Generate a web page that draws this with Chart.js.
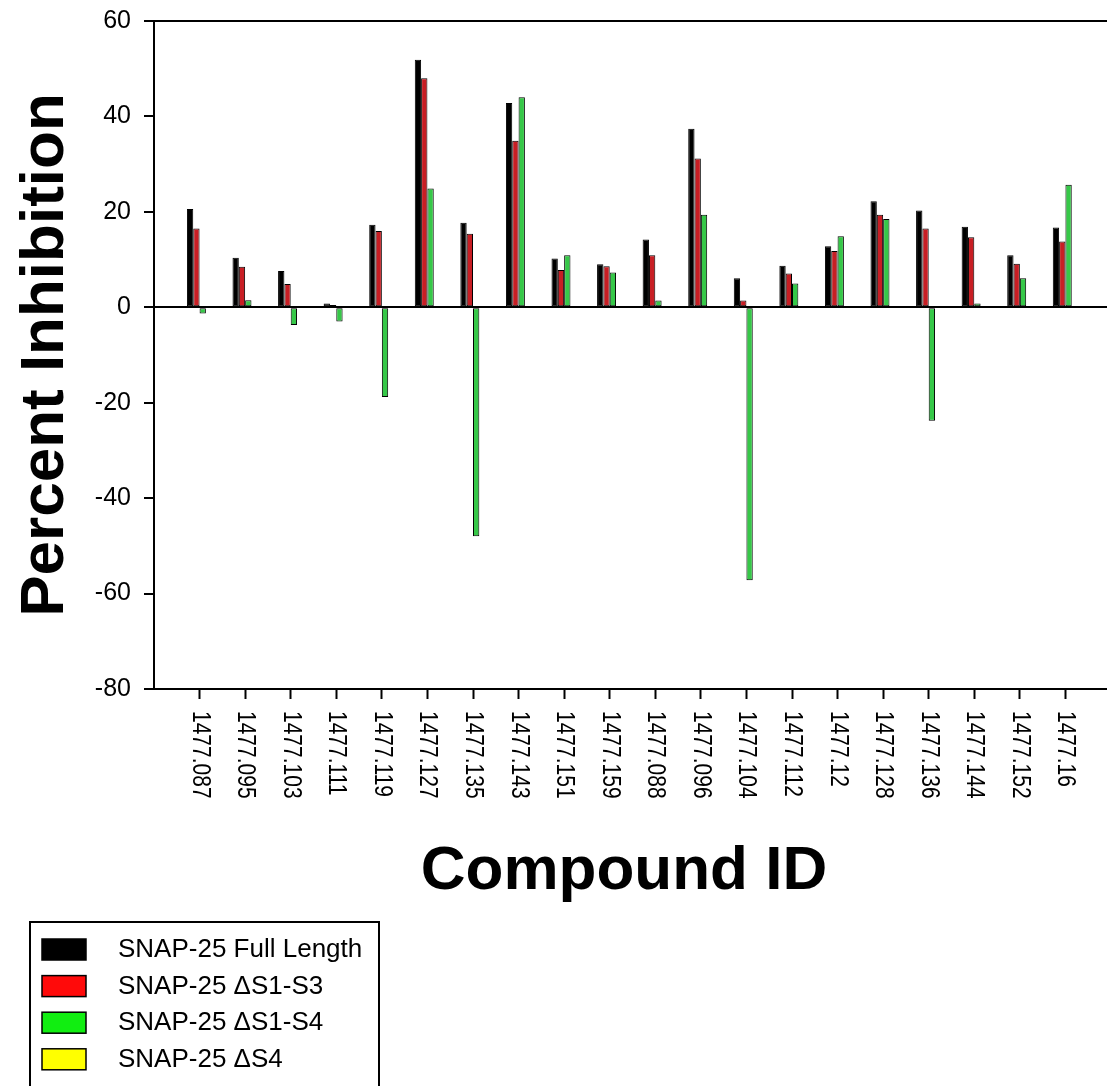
<!DOCTYPE html>
<html>
<head>
<meta charset="utf-8">
<title>Percent Inhibition by Compound</title>
<script src="https://cdn.jsdelivr.net/npm/chart.js@4/dist/chart.umd.min.js"></script>
<style>
  html, body { margin: 0; padding: 0; background: #fff; }
  #wrap { width: 1107px; height: 1086px; overflow: hidden; }
</style>
</head>
<body>
<div id="wrap"><canvas id="inhibition-chart" width="1112" height="1086"></canvas></div>
<script>
const compoundIds = ['1477.087', '1477.095', '1477.103', '1477.111', '1477.119', '1477.127', '1477.135',
    '1477.143', '1477.151', '1477.159', '1477.088', '1477.096', '1477.104', '1477.112', '1477.12',
    '1477.128', '1477.136', '1477.144', '1477.152', '1477.16'];

const fullLength = [20.6, 10.4, 7.6, 0.8, 17.3, 51.9, 17.7, 42.8, 10.2, 9.0,
    14.2, 37.4, 6.1, 8.7, 12.8, 22.2, 20.3, 16.9, 10.9, 16.7];
const deltaS1S3 = [16.5, 8.5, 4.9, 0.5, 16.0, 48.0, 15.4, 34.9, 7.8, 8.6,
    10.9, 31.2, 1.4, 7.1, 11.8, 19.4, 16.5, 14.7, 9.1, 13.8];
const deltaS1S4 = [-1.3, 1.5, -3.7, -3.0, -18.8, 24.9, -48.0, 44.0, 10.9, 7.3,
    1.4, 19.4, -57.2, 5.0, 14.9, 18.5, -23.8, 0.8, 6.1, 25.7];
const deltaS4 = [null, null, null, null, null, null, null, null, null, null,
    null, null, null, null, null, null, null, null, null, null];

const seriesLabels = ['SNAP-25 Full Length', 'SNAP-25 \u0394S1-S3', 'SNAP-25 \u0394S1-S4', 'SNAP-25 \u0394S4'];
const yMin = -80;
const yMax = 60;
const yStep = 20;

const FONT = '"Liberation Sans", Arial, sans-serif';

// compounds sit on positions 1..n of a linear axis running 0..n+1
function toPoints(values) {
    return values.map((v, i) => ({ x: i + 1, y: v }));
}

function barSet(label, values, fill, legendFill) {
    return {
        label: label,
        data: toPoints(values),
        backgroundColor: fill,
        borderColor: '#000',
        borderWidth: 1,
        borderSkipped: false,
        barPercentage: 1,
        categoryPercentage: 0.555,
        legendFill: legendFill
    };
}

const datasets = [
    barSet(seriesLabels[0], fullLength, '#000000', '#000000'),
    barSet(seriesLabels[1], deltaS1S3, '#c81e24', '#ff0a0a'),
    barSet(seriesLabels[2], deltaS1S4, '#36c848', '#11ee11'),
    barSet(seriesLabels[3], deltaS4, '#ffff00', '#ffff00')
];

// top and right edges of the plot frame
const framePlugin = {
    id: 'frame',
    afterDatasetsDraw(chart) {
        const { ctx, chartArea: a } = chart;
        ctx.save();
        ctx.strokeStyle = '#000';
        ctx.lineWidth = 2;
        ctx.beginPath();
        ctx.moveTo(a.left, a.top);
        ctx.lineTo(a.right, a.top);
        ctx.lineTo(a.right, a.bottom);
        ctx.stroke();
        ctx.restore();
    }
};

// compound ids read top-to-bottom under each tick, plus the x title
const xLabelsPlugin = {
    id: 'xLabels',
    afterDraw(chart) {
        const { ctx } = chart;
        const xScale = chart.scales.x;
        ctx.save();
        ctx.fillStyle = '#000';
        ctx.font = '21px ' + FONT;
        ctx.textAlign = 'left';
        ctx.textBaseline = 'middle';
        compoundIds.forEach((id, i) => {
            const px = xScale.getPixelForValue(i + 1);
            ctx.save();
            ctx.translate(px, 711);
            ctx.rotate(Math.PI / 2);
            ctx.scale(1, 1.2);
            ctx.fillText(id, 0, 0);
            ctx.restore();
        });
        ctx.font = 'bold 62px ' + FONT;
        ctx.textAlign = 'center';
        ctx.textBaseline = 'alphabetic';
        ctx.fillText('Compound ID', 624, 889);
        ctx.restore();
    }
};

const legendBoxPlugin = {
    id: 'legendBox',
    afterDraw(chart) {
        const { ctx } = chart;
        ctx.save();
        ctx.strokeStyle = '#000';
        ctx.lineWidth = 2;
        ctx.strokeRect(30, 922, 349, 200);
        ctx.font = '26px ' + FONT;
        ctx.textAlign = 'left';
        ctx.textBaseline = 'middle';
        chart.data.datasets.forEach((ds, i) => {
            const top = 939 + i * 36.6;
            ctx.fillStyle = ds.legendFill;
            ctx.fillRect(42, top, 44, 21);
            ctx.lineWidth = 1.5;
            ctx.strokeRect(42, top, 44, 21);
            ctx.fillStyle = '#000';
            ctx.fillText(ds.label, 118, top + 11);
        });
        ctx.restore();
    }
};

const config = {
    type: 'bar',
    data: { datasets },
    options: {
        responsive: false,
        animation: false,
        layout: { padding: { top: 21, right: 1, bottom: 0, left: 0 } },
        plugins: {
            legend: { display: false },
            tooltip: { enabled: false }
        },
        scales: {
            x: {
                type: 'linear',
                offset: false,
                min: 0,
                max: compoundIds.length + 1,
                ticks: { display: false, stepSize: 1 },
                grid: {
                    offset: false,
                    drawOnChartArea: false,
                    tickLength: 10,
                    tickWidth: 2,
                    tickColor: (c) => (c.tick && c.tick.value >= 1 && c.tick.value <= compoundIds.length) ? '#000' : 'rgba(0,0,0,0)'
                },
                border: { display: true, color: '#000', width: 2 },
                afterFit(scale) { scale.height = 1086 - 689; }
            },
            y: {
                min: yMin,
                max: yMax,
                ticks: {
                    stepSize: yStep,
                    color: '#000',
                    padding: 13,
                    font: { family: FONT, size: 25 }
                },
                grid: {
                    color: (c) => (c.tick && c.tick.value === 0) ? '#000' : 'rgba(0,0,0,0)',
                    lineWidth: 2,
                    tickLength: 10,
                    tickWidth: 2,
                    tickColor: '#000'
                },
                border: { display: true, color: '#000', width: 2 },
                title: {
                    display: true,
                    text: 'Percent Inhibition',
                    color: '#000',
                    padding: { top: 15, bottom: 0 },
                    font: { family: FONT, size: 62, weight: 'bold', lineHeight: 1 }
                },
                afterFit(scale) {
                    scale.width = 154;
                    // label padding would otherwise push the plot top down
                    scale.paddingTop = 0;
                    scale.paddingBottom = 0;
                }
            }
        }
    },
    plugins: [framePlugin, xLabelsPlugin, legendBoxPlugin]
};

const inhibitionChart = new Chart(document.querySelector('#inhibition-chart'), config);
</script>
</body>
</html>
